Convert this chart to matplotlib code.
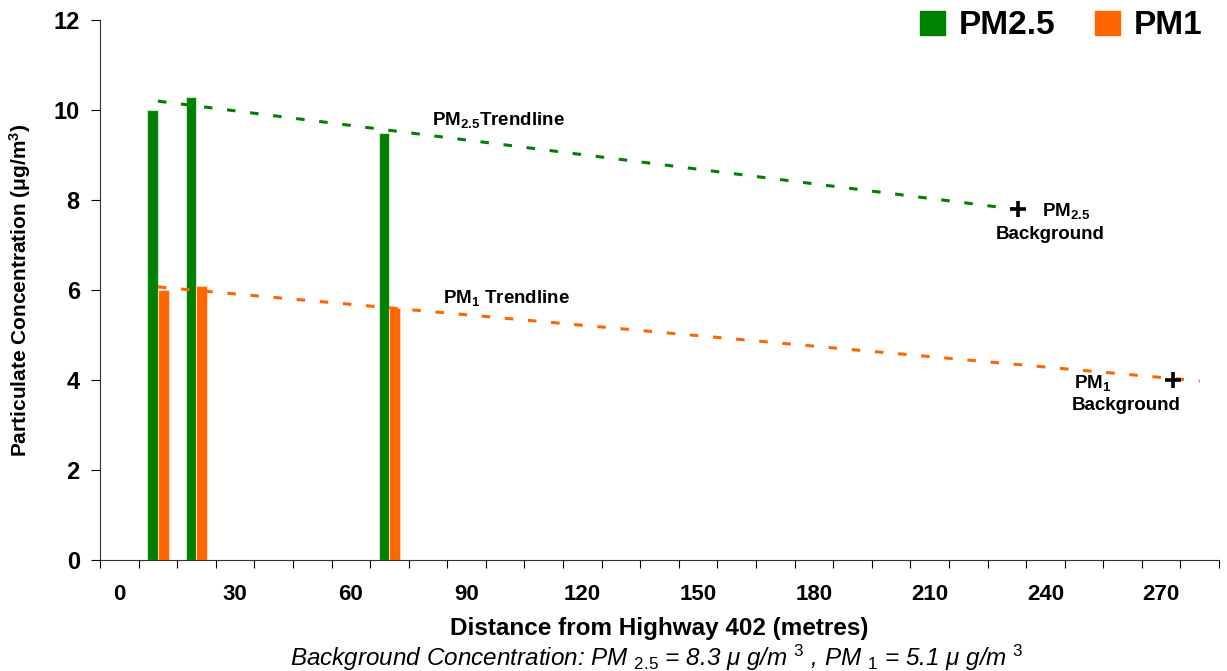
import numpy as np
import matplotlib.pyplot as plt
from matplotlib.patches import Patch

plt.rcParams['font.family'] = ['Liberation Sans', 'DejaVu Sans']
plt.rcParams['mathtext.fontset'] = 'custom'
plt.rcParams['mathtext.rm'] = 'Liberation Sans'
plt.rcParams['mathtext.it'] = 'Liberation Sans:italic'
plt.rcParams['mathtext.bf'] = 'Liberation Sans:bold'

# measurements at distance from highway (m)
dist = np.array([10, 20, 70])
pm25 = np.array([10.0, 10.3, 9.5])
pm1 = np.array([6.0, 6.1, 5.6])

# trendline end points
trend_x25 = np.array([10, 232])
trend_y25 = np.array([10.2, 7.8])
trend_x1 = np.array([10, 280])
trend_y1 = np.array([6.07, 3.98])

# background sites
bg_x = np.array([233, 273])
bg_y = np.array([7.8, 4.0])

green = '#008000'
orange = '#FF6600'
w = 2.8
fs_note = 13.5

fig = plt.figure(figsize=(12.27, 6.71), dpi=100)
ax = fig.add_axes([0.0815, 0.1654, 0.912, 0.8046])

ax.bar(dist, pm25, width=-w, align='edge', color=green, edgecolor='#c8e6c8', linewidth=0.8)
ax.bar(dist, pm1, width=w, align='edge', color=orange, edgecolor='#ffd0b0', linewidth=0.8)

ax.plot(trend_x25, trend_y25, color=green, lw=2.2, linestyle=(0, (2.8, 4.8)))
ax.plot(trend_x1, trend_y1, color=orange, lw=2.2, linestyle=(0, (2.8, 4.8)))
ax.plot(bg_x, bg_y, '+', color='black', ms=11, mew=2.6)

ax.text(81, 9.78, r'PM$_{\mathbf{2.5}}$Trendline', fontsize=fs_note, fontweight='bold', va='center')
ax.text(84, 5.82, r'PM$_{\mathbf{1}}$ Trendline', fontsize=fs_note, fontweight='bold', va='center')
ax.text(239, 7.76, r'PM$_{\mathbf{2.5}}$', fontsize=fs_note, fontweight='bold', va='center')
ax.text(241.3, 7.24, 'Background', fontsize=fs_note, fontweight='bold', va='center', ha='center')
ax.text(247.5, 3.93, r'PM$_{\mathbf{1}}$', fontsize=fs_note, fontweight='bold', va='center')
ax.text(261, 3.44, 'Background', fontsize=fs_note, fontweight='bold', va='center', ha='center')

ax.set_xlim(-5, 285)
ax.set_ylim(0, 12)
ax.set_yticks(np.arange(0, 13, 2))
ax.set_xticks(np.arange(-5, 286, 10))
ax.set_xticklabels([])
ax.set_xticks(np.arange(0, 271, 30), minor=True)
ax.set_xticklabels([str(v) for v in range(0, 271, 30)], minor=True, fontsize=16, fontweight='bold')
ax.tick_params(axis='x', which='minor', length=0, pad=17)
ax.tick_params(axis='x', which='major', length=6, direction='out')
ax.tick_params(axis='y', length=6.5, labelsize=17, pad=8)
for t in ax.get_yticklabels():
    t.set_fontweight('bold')

for s in ['top', 'right']:
    ax.spines[s].set_visible(False)
ax.spines['left'].set_color('#333333')
ax.spines['bottom'].set_color('#333333')

ax.set_xlabel('Distance from Highway 402 (metres)', fontsize=17.5, fontweight='bold', va='center')
ax.xaxis.set_label_coords(0.5, -0.126)
ax.set_ylabel(r'Particulate Concentration ($\mathbf{\mu}$g/m$^{\mathbf{3}}$)', fontsize=15, fontweight='bold', va='center')
ax.yaxis.set_label_coords(-0.0715, 0.5)

fig.text(0.535, 0.019, r'Background Concentration: PM $_{\mathit{2.5}}$ = 8.3 $\mathit{\mu}$ g/m $^{\mathit{3}}$ , PM $_{\mathit{1}}$ = 5.1 $\mathit{\mu}$ g/m $^{\mathit{3}}$',
         fontsize=17.5, style='italic', ha='center', va='center')

handles = [Patch(color=green, label='PM2.5'), Patch(color=orange, label='PM1')]
ax.legend(handles=handles, loc='upper right', bbox_to_anchor=(1.003, 1.055), ncol=2, frameon=False,
          prop={'size': 24, 'weight': 'bold'}, handlelength=0.75, handleheight=0.75,
          handletextpad=0.4, columnspacing=1.2, borderaxespad=0.2)

fig.savefig('out.png', dpi=100)
